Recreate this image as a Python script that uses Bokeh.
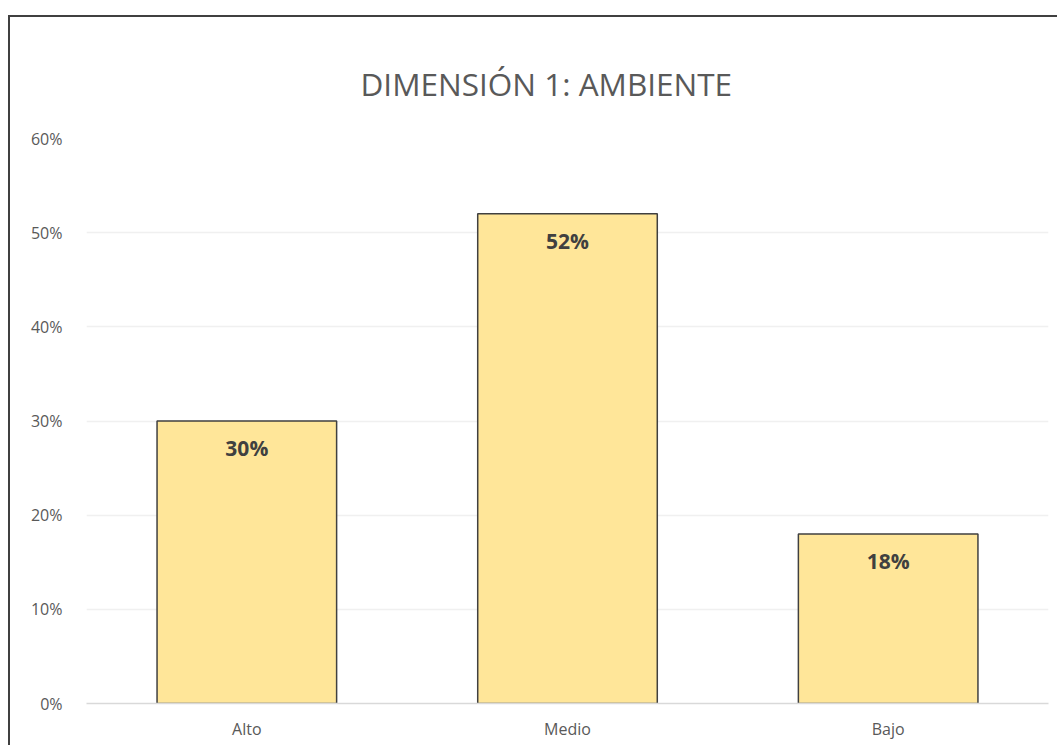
from bokeh.plotting import figure
from bokeh.models import FactorRange, Range1d, NumeralTickFormatter, FixedTicker, ColumnDataSource
from bokeh.core.properties import value
from bokeh.embed import file_html
from bokeh.resources import INLINE

categories = ["Alto", "Medio", "Bajo"]
values = [0.30, 0.52, 0.18]
y_ticks = [0.0, 0.1, 0.2, 0.3, 0.4, 0.5, 0.6]
title_text = "DIMENSIÓN 1: AMBIENTE"

labels = [f"{round(v * 100)}%" for v in values]
src = ColumnDataSource(dict(cat=categories, val=values, lab=labels))

p = figure(width=1049, height=730,
           x_range=FactorRange(*categories, range_padding=0),
           y_range=Range1d(0, 0.6),
           output_backend="svg", toolbar_location=None,
           min_border_left=76, min_border_right=11,
           min_border_top=121, min_border_bottom=44)
p.styles = {"border-top": "2px solid #404040", "border-left": "2px solid #404040",
            "margin-top": "15px", "margin-left": "8px"}
p.outline_line_color = None
p.background_fill_color = "white"
p.border_fill_color = "white"

p.title.text = title_text
p.title.align = "left"
p.title.offset = 274
p.title.text_font = "Open Sans"
p.title.text_font_size = "31.5px"
p.title.text_font_style = "normal"
p.title.text_color = "#595959"
p.title.standoff = 68

p.vbar(x="cat", top="val", width=0.56, source=src,
       fill_color="#FFE699", line_color="#404040", line_width=1.5)

p.text(x="cat", y="val", text="lab", source=src,
       text_align="center", text_baseline="middle", y_offset=27,
       text_font=value("Open Sans"), text_font_style="bold",
       text_font_size="21px", text_color="#404040")

p.xgrid.grid_line_color = None
p.ygrid.grid_line_color = "#F0F0F0"
p.ygrid.grid_line_width = 1.5

p.yaxis.ticker = FixedTicker(ticks=y_ticks)
p.yaxis.formatter = NumeralTickFormatter(format="0%")
p.yaxis.axis_line_color = None
p.yaxis.major_tick_line_color = None
p.yaxis.minor_tick_line_color = None
p.yaxis.major_label_standoff = 18
p.yaxis.major_label_text_font = "Open Sans"
p.yaxis.major_label_text_font_size = "16px"
p.yaxis.major_label_text_color = "#595959"

p.xaxis.axis_line_color = "#D9D9D9"
p.xaxis.axis_line_width = 1.5
p.xaxis.major_tick_line_color = None
p.xaxis.minor_tick_line_color = None
p.xaxis.major_label_standoff = 8
p.xaxis.major_label_text_font = "Open Sans"
p.xaxis.major_label_text_font_size = "16px"
p.xaxis.major_label_text_color = "#595959"

open("out.html", "w").write(file_html(p, INLINE))
